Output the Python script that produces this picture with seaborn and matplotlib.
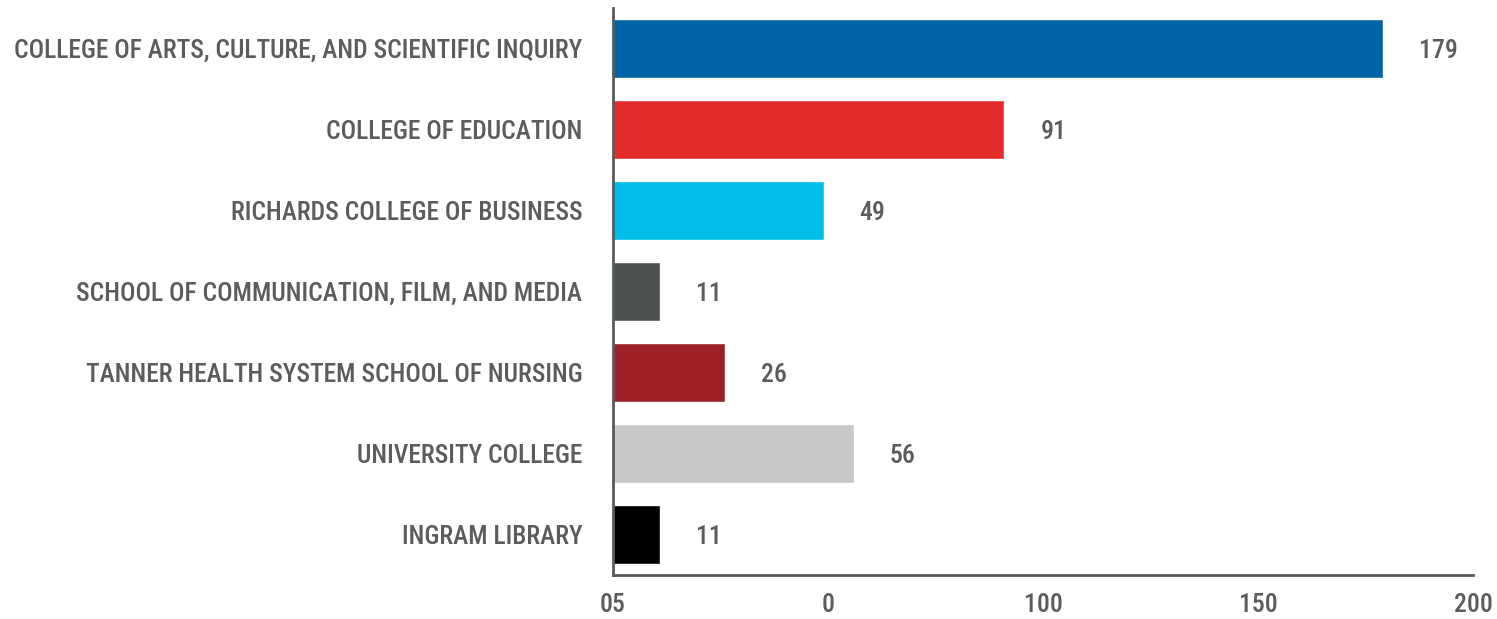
import seaborn as sns
import pandas as pd
import matplotlib.pyplot as plt

colleges = [
    "COLLEGE OF ARTS, CULTURE, AND SCIENTIFIC INQUIRY",
    "COLLEGE OF EDUCATION",
    "RICHARDS COLLEGE OF BUSINESS",
    "SCHOOL OF COMMUNICATION, FILM, AND MEDIA",
    "TANNER HEALTH SYSTEM SCHOOL OF NURSING",
    "UNIVERSITY COLLEGE",
    "INGRAM LIBRARY",
]
counts = [179, 91, 49, 11, 26, 56, 11]
bar_colors = ["#0065A6", "#E22C2C", "#00BCE8", "#4D5051", "#9D2029", "#C7C8CA", "#000000"]
tick_values = [0, 50, 100, 150, 200]
tick_labels = ["05", "0", "100", "150", "200"]

sns.set_style("white")
plt.rcParams['font.family'] = ['Roboto Condensed', 'Liberation Sans Narrow', 'DejaVu Sans']
plt.rcParams['font.stretch'] = 'condensed'
plt.rcParams['font.weight'] = 'medium'
txt = "#5A5C5E"

df = pd.DataFrame({"college": colleges, "count": counts})

fig = plt.figure(figsize=(14.97, 6.19), dpi=100)
ax = fig.add_axes([0.4095, 0.071, 0.5745, 0.916])
sns.barplot(data=df, y="college", x="count", hue="college", palette=bar_colors,
            orient="h", width=0.72, legend=False, ax=ax, saturation=1)

# value labels to the right of each bar
for i, v in enumerate(counts):
    ax.annotate(str(v), (v, i), xytext=(36, -2), textcoords="offset pixels",
                ha="left", va="center", fontsize=18.5, color=txt, fontweight="medium")

ax.set_xlim(0, 200)
ax.set_ylim(6.5, -0.5)
ax.set_xticks(tick_values)
ax.set_xticklabels(tick_labels, fontsize=18.5, color=txt, fontweight="medium")
ax.tick_params(axis="x", direction="in", length=10, width=2, color="black", pad=13)
ax.tick_params(axis="y", length=0, pad=22, labelsize=18.4, labelcolor=txt)
for lab in ax.get_yticklabels():
    lab.set_fontweight("medium")
ax.set_xlabel("")
ax.set_ylabel("")
for s in ["top", "right"]:
    ax.spines[s].set_visible(False)
for s in ["left", "bottom"]:
    ax.spines[s].set_color("#5A5A5A")
    ax.spines[s].set_linewidth(2)

fig.savefig("out.png", dpi=100)
